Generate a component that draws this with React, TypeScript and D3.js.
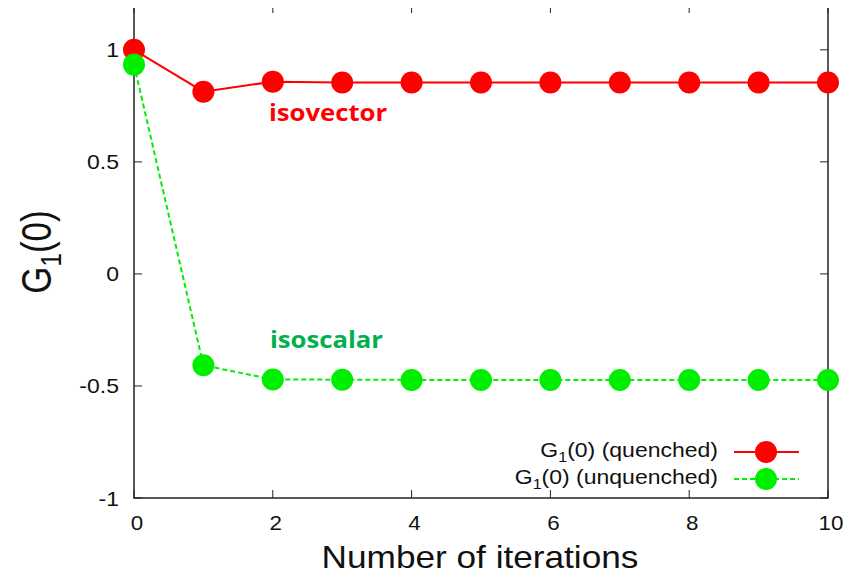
import React, { useEffect, useRef } from "react";
import * as d3 from "d3";

const iterations = [0, 1, 2, 3, 4, 5, 6, 7, 8, 9, 10];
const quenched = [1.0, 0.813, 0.858, 0.854, 0.854, 0.854, 0.854, 0.854, 0.854, 0.854, 0.854];
const unquenched = [0.934, -0.408, -0.471, -0.472, -0.473, -0.473, -0.473, -0.473, -0.473, -0.473, -0.473];
const xTicks = [0, 2, 4, 6, 8, 10];
const yTicks = [-1, -0.5, 0, 0.5, 1];
const yTickLabels = ["-1", "-0.5", "0", "0.5", "1"];

const W = 860;
const H = 574;
const M = { left: 134, right: 32, top: 5, bottom: 76 };

export default function App() {
  const ref = useRef<SVGSVGElement | null>(null);

  useEffect(() => {
    const svg = d3.select(ref.current);
    svg.selectAll("*").remove();

    const x = d3.scaleLinear().domain([0, 10]).range([M.left, W - M.right]);
    const y = d3.scaleLinear().domain([-1, 1.2]).range([H - M.bottom, M.top]);
    const font = "'Liberation Sans', Arial, sans-serif";
    const axisColor = "#222";
    const tickLen = 8;

    const g = svg.append("g");

    // text placed at (tx, ty), widened horizontally by sx
    const label = (tx: number, ty: number, sx: number, size: number, anchor: string) =>
      g.append("text")
        .attr("transform", `translate(${tx},${ty}) scale(${sx},1)`)
        .attr("text-anchor", anchor).attr("font-family", font)
        .attr("font-size", size).attr("fill", "#111");

    // ticks on all four sides, pointing inward
    xTicks.forEach((t) => {
      g.append("line").attr("x1", x(t)).attr("x2", x(t))
        .attr("y1", y(-1)).attr("y2", y(-1) - tickLen)
        .attr("stroke", axisColor).attr("stroke-width", 1);
      g.append("line").attr("x1", x(t)).attr("x2", x(t))
        .attr("y1", y(1.2)).attr("y2", y(1.2) + tickLen)
        .attr("stroke", axisColor).attr("stroke-width", 1);
      label(x(t) + 3, y(-1) + 32, 1.12, 20, "middle").text(String(t));
    });
    yTicks.forEach((t, i) => {
      g.append("line").attr("x1", x(0)).attr("x2", x(0) + tickLen)
        .attr("y1", y(t)).attr("y2", y(t))
        .attr("stroke", axisColor).attr("stroke-width", 1);
      g.append("line").attr("x1", x(10)).attr("x2", x(10) - tickLen)
        .attr("y1", y(t)).attr("y2", y(t))
        .attr("stroke", axisColor).attr("stroke-width", 1);
      label(x(0) - 15, y(t) + 7.5, 1.15, 20, "end").text(yTickLabels[i]);
    });

    // frame
    g.append("rect")
      .attr("x", x(0)).attr("y", y(1.2))
      .attr("width", x(10) - x(0)).attr("height", y(-1) - y(1.2))
      .attr("fill", "none").attr("stroke", axisColor).attr("stroke-width", 1.5);

    const line = d3.line<number>().x((_, i) => x(iterations[i])).y((d) => y(d));

    const red = "#ff0000";
    const green = "#00ee00";
    const r = 11;

    // quenched series
    g.append("path").attr("d", line(quenched)).attr("fill", "none")
      .attr("stroke", red).attr("stroke-width", 2);
    g.selectAll(".q").data(quenched).enter().append("circle")
      .attr("cx", (_, i) => x(iterations[i])).attr("cy", (d) => y(d))
      .attr("r", r).attr("fill", red);

    // unquenched series
    g.append("path").attr("d", line(unquenched)).attr("fill", "none")
      .attr("stroke", green).attr("stroke-width", 2).attr("stroke-dasharray", "5,3");
    g.selectAll(".u").data(unquenched).enter().append("circle")
      .attr("cx", (_, i) => x(iterations[i])).attr("cy", (d) => y(d))
      .attr("r", r).attr("fill", green);

    // series annotations
    const noteFont = "'Open Sans', 'Noto Sans', sans-serif";
    g.append("text").attr("transform", "translate(269,121) scale(1.07,1)")
      .attr("font-family", noteFont).attr("font-weight", 700)
      .attr("font-size", 24).attr("fill", red).text("isovector");
    g.append("text").attr("transform", "translate(270,348) scale(1.07,1)")
      .attr("font-family", noteFont).attr("font-weight", 700)
      .attr("font-size", 24).attr("fill", "#00b050").text("isoscalar");

    // legend
    const legend = [
      { label: "(quenched)", color: red, dash: null, y: 452 },
      { label: "(unquenched)", color: green, dash: "5,3", y: 479 },
    ];
    legend.forEach((item) => {
      const t = label(718, item.y + 5, 1.15, 20, "end");
      t.append("tspan").text("G");
      t.append("tspan").attr("font-size", 14).attr("dy", 5).text("1");
      t.append("tspan").attr("dy", -5).text("(0) " + item.label);
      const l = g.append("line").attr("x1", 734).attr("x2", 799)
        .attr("y1", item.y).attr("y2", item.y)
        .attr("stroke", item.color).attr("stroke-width", 2);
      if (item.dash) l.attr("stroke-dasharray", item.dash);
      g.append("circle").attr("cx", 766).attr("cy", item.y).attr("r", r).attr("fill", item.color);
    });

    // axis titles
    label(480, 568, 1.1, 32, "middle").text("Number of iterations");

    const yl = g.append("text")
      .attr("transform", "translate(51,252) rotate(-90) scale(1,1.2)")
      .attr("text-anchor", "middle").attr("font-family", font)
      .attr("font-size", 35).attr("fill", "#111");
    yl.append("tspan").text("G");
    yl.append("tspan").attr("font-size", 24).attr("dy", 8).text("1");
    yl.append("tspan").attr("dy", -8).text("(0)");
  }, []);

  return (
    <svg ref={ref} width={W} height={H} style={{ display: "block", margin: "-8px 0 0 -8px" }} />
  );
}
